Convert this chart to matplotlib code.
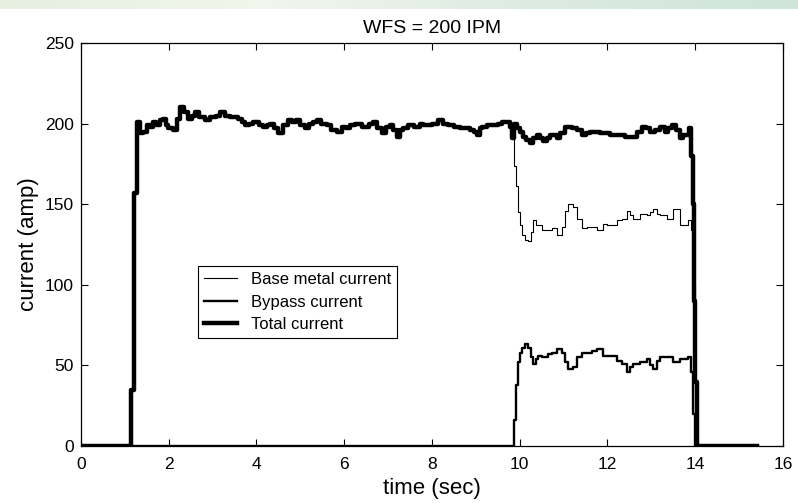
import numpy as np
import matplotlib
matplotlib.use("Agg")
import matplotlib.pyplot as plt

# total current (amp) vs time (sec)
t_total = [0, 1.15, 1.2, 1.28, 1.35, 1.42, 1.5, 1.57, 1.65, 1.72, 1.8, 1.87, 1.93, 1.98,
           2.1, 2.18, 2.26, 2.35, 2.44, 2.52, 2.6, 2.7, 2.83, 2.95, 3.07, 3.17, 3.28, 3.4,
           3.5, 3.58, 3.66, 3.74, 3.83, 3.93, 4.05, 4.15, 4.23, 4.31, 4.4, 4.49, 4.6, 4.72,
           4.8, 4.91, 5.0, 5.1, 5.2, 5.28, 5.37, 5.47, 5.6, 5.7, 5.83, 5.95, 6.05, 6.13,
           6.25, 6.32, 6.4, 6.47, 6.57, 6.65, 6.75, 6.86, 6.95, 7.05, 7.12, 7.2, 7.28, 7.35,
           7.45, 7.6, 7.72, 7.8, 7.88, 8.0, 8.14, 8.25, 8.37, 8.5, 8.64, 8.75, 8.87, 8.95,
           9.02, 9.1, 9.14, 9.25, 9.4, 9.5, 9.6, 9.73, 9.78, 9.83, 9.88, 9.93, 10.0, 10.08,
           10.15, 10.23, 10.3, 10.39, 10.46, 10.54, 10.62, 10.69, 10.76, 10.84, 10.92, 11.03,
           11.1, 11.19, 11.3, 11.42, 11.5, 11.6, 11.7, 11.83, 11.95, 12.06, 12.18, 12.29,
           12.4, 12.5, 12.58, 12.68, 12.79, 12.88, 12.97, 13.08, 13.2, 13.3, 13.38, 13.47,
           13.56, 13.65, 13.72, 13.77, 13.85, 13.9, 13.94, 13.97, 14.0, 14.03, 15.4]
total = [0, 35, 157, 201, 194, 195, 199, 198, 201, 199, 202, 203, 199, 197,
         196, 203, 210, 207, 203, 205, 207, 204, 202, 204, 205, 207, 205, 204,
         204, 203, 201, 199, 200, 201, 199, 198, 199, 200, 197, 194, 199, 202,
         201, 202, 199, 197, 200, 201, 202, 200, 199, 196, 195, 198, 197, 199,
         200, 200, 198, 198, 200, 201, 197, 194, 198, 199, 196, 192, 196, 197,
         199, 198, 200, 199, 199, 200, 202, 200, 199, 198, 197, 197, 196, 195,
         193, 197, 198, 199, 199, 200, 201, 201, 198, 191, 200, 197, 195, 192,
         190, 188, 191, 193, 191, 189, 191, 193, 193, 191, 194, 198,
         198, 197, 196, 193, 194, 195, 195, 194, 194, 193, 193, 193,
         192, 192, 192, 195, 198, 197, 195, 196, 198, 195, 197, 199,
         196, 191, 193, 193, 197, 180, 150, 90, 40, 0, 0]

# bypass current
t_bypass = [0, 9.87, 9.91, 9.95, 10.0, 10.05, 10.12, 10.19, 10.25, 10.3, 10.36, 10.42,
            10.5, 10.57, 10.65, 10.73, 10.84, 10.96, 11.03, 11.1, 11.22, 11.3, 11.41,
            11.53, 11.65, 11.76, 11.9, 12.0, 12.1, 12.22, 12.33, 12.44, 12.52, 12.59,
            12.74, 12.89, 12.97, 13.04, 13.12, 13.2, 13.35, 13.5, 13.65, 13.83, 13.9,
            13.95, 14.0, 15.4]
bypass = [0, 16, 38, 52, 58, 61, 63, 61, 55, 51, 54, 56,
          55, 55, 57, 58, 60, 58, 52, 48, 49, 55, 58,
          58, 59, 60, 56, 56, 56, 53, 51, 46, 49, 51,
          52, 54, 50, 48, 53, 55, 55, 52, 54, 55, 46,
          20, 0, 0]

# base metal current after the bypass switches on (before that it equals total)
t_base_late = [9.78, 9.83, 9.86, 9.91, 9.95, 10.0, 10.05, 10.12, 10.19, 10.25, 10.3,
               10.36, 10.42, 10.5, 10.57, 10.65, 10.73, 10.84, 10.96, 11.03, 11.1, 11.22,
               11.3, 11.41, 11.53, 11.65, 11.76, 11.9, 12.0, 12.1, 12.22, 12.33, 12.44,
               12.52, 12.59, 12.74, 12.89, 12.97, 13.04, 13.12, 13.2, 13.35, 13.5, 13.65,
               13.83, 13.9, 13.95, 14.0, 15.4]
base_late = [198, 191, 174, 161, 145, 137, 131, 128, 127, 133, 140,
             137, 137, 134, 134, 134, 135, 131, 136, 146, 150, 148,
             141, 135, 136, 136, 134, 138, 137, 137, 140, 141, 146,
             143, 141, 144, 143, 145, 147, 144, 143, 141, 147, 137,
             140, 134, 100, 0, 0]

t_total = np.array(t_total)
total = np.array(total)
early = t_total < t_base_late[0]
t_base = np.concatenate([t_total[early], t_base_late])
base = np.concatenate([total[early], base_late])

fig = plt.figure(figsize=(7.98, 5.03), dpi=100)

# pale green band along the top edge
band = fig.add_axes([0, 0.982, 1, 0.018])
grad = np.linspace(0, 1, 256).reshape(1, -1)
band.imshow(grad, aspect="auto", cmap=matplotlib.colors.LinearSegmentedColormap.from_list(
    "g", ["#e4efe0", "#f2f6ec", "#dcebe2", "#cfe4da"]))
band.axis("off")

ax = fig.add_axes([0.1015, 0.1133, 0.8797, 0.8012])
ax.step(t_base, base, where="post", color="black", lw=0.8, label="Base metal current")
ax.step(t_bypass, bypass, where="post", color="black", lw=1.7, label="Bypass current")
ax.step(t_total, total, where="post", color="black", lw=3.2, label="Total current")

ax.set_xlim(0, 16)
ax.set_ylim(0, 250)
ax.set_xticks(range(0, 17, 2))
ax.set_yticks(range(0, 251, 50))
ax.tick_params(direction="in", top=True, right=True, length=5, width=0.8,
               labelsize=12.5)
ax.tick_params(axis="x", pad=8)
ax.tick_params(axis="y", pad=5)
for s in ax.spines.values():
    s.set_linewidth(0.9)

fam = ["Liberation Sans", "DejaVu Sans"]
for lab in ax.get_xticklabels() + ax.get_yticklabels():
    lab.set_family(fam)

ax.set_title("WFS = 200 IPM", fontsize=14, family=fam, pad=7)
ax.set_xlabel("time (sec)", fontsize=16, family=fam, labelpad=4)
ax.set_ylabel("current (amp)", fontsize=16, family=fam, labelpad=4)

leg = ax.legend(loc="lower left", bbox_to_anchor=(0.167, 0.268), fancybox=False,
                edgecolor="black", framealpha=1, prop={"family": fam, "size": 12},
                handlelength=2.0, handletextpad=0.8, borderpad=0.35, labelspacing=0.45,
                borderaxespad=0)
leg.get_frame().set_linewidth(0.8)

fig.savefig("out.png", dpi=100)
